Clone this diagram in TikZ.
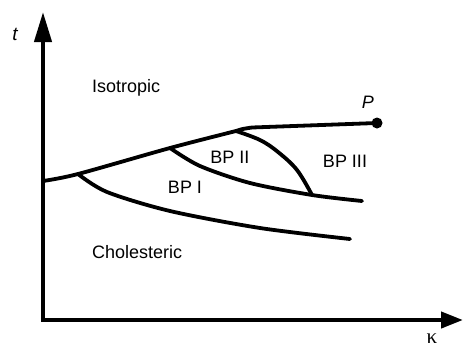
\documentclass[tikz,border=0pt]{standalone}
\usepackage{fontspec}
\setmainfont{Liberation Sans}
\newfontfamily\grserif{Liberation Serif}
\usetikzlibrary{arrows.meta}
\begin{document}
\begin{tikzpicture}[x=1pt,y=-1pt,
  axis/.style={line width=4.2pt},
  bound/.style={line width=3.8pt, line cap=round, line join=round},
  lbl/.style={font=\fontsize{18}{20}\selectfont, inner sep=0pt},
]
\useasboundingbox (0,0) rectangle (464,349);
% axes
\coordinate (O) at (43,320);
\coordinate (Ty) at (43,12);
\coordinate (Tx) at (463,320);
\draw[axis, -{Triangle[length=30pt,width=17pt]}] ([yshift=2.1pt]O) -- (Ty);
\draw[axis, -{Triangle[length=22pt,width=16pt]}] ([xshift=-2.1pt]O) -- (Tx);
\node[lbl, font=\fontsize{19}{20}\selectfont\itshape] (t) at (15,34) {t};
\node[lbl] (k) at (432,339) {\grserif\fontsize{21}{22}\selectfont κ};
% junctions
\coordinate (A) at (43,181);
\coordinate (J1) at (78,174);
\coordinate (J2) at (170,148);
\coordinate (J3) at (236,131);
\coordinate (P) at (377,123);
\coordinate (J4) at (312,195);
\coordinate (E1) at (362,201);
\coordinate (E2) at (350,239);
% boundaries
\draw[bound] plot[smooth] coordinates {(A) (J1) (J2) (J3)};
\draw[bound] (J3) .. controls (242,129) .. (252,127.5) -- (P);
\draw[bound] plot[smooth, tension=0.6] coordinates {(J3) (260,140) (278,152) (297,170) (J4)};
\draw[bound] plot[smooth] coordinates {(J2) (200,166) (250,183) (J4) (E1)};
\draw[bound] plot[smooth] coordinates {(J1) (107,192) (170,211) (260,228) (E2)};
\fill (P) circle (5.5pt);
% labels
\node[lbl, font=\fontsize{18}{20}\selectfont\itshape] (Pl) at (368,102) {P};
\node[lbl, anchor=west] (iso) at (92,88) {Isotropic};
\node[lbl, anchor=west] (chol) at (92,252) {Cholesteric};
\node[lbl] (bp2) at (230,157) {BP II};
\node[lbl] (bp3) at (345,161) {BP III};
\node[lbl] (bp1) at (185,187) {BP I};
\end{tikzpicture}
\end{document}
